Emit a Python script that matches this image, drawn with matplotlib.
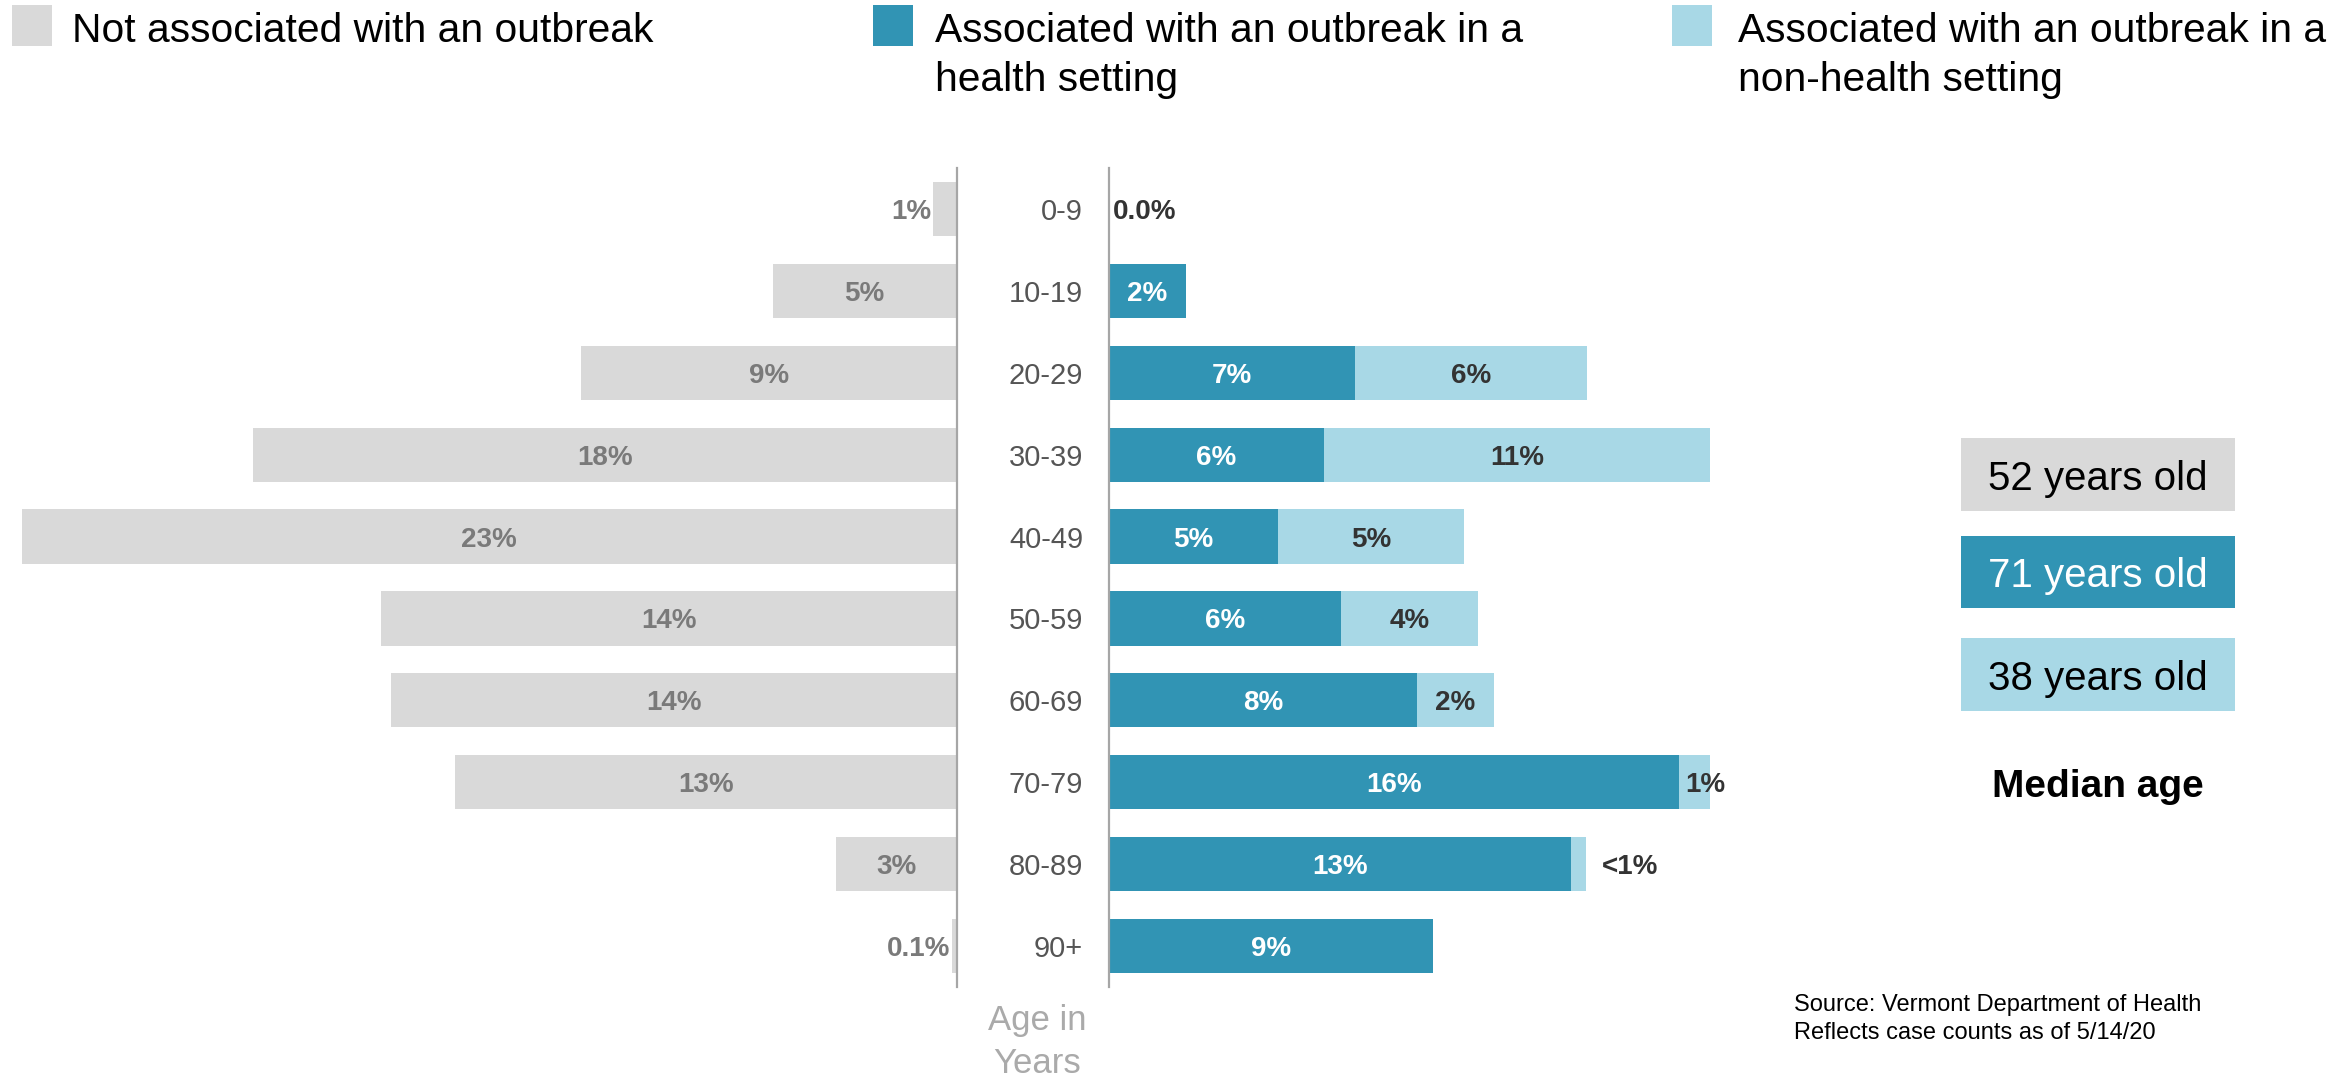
import matplotlib
matplotlib.use('Agg')
import matplotlib.pyplot as plt
from matplotlib.patches import Rectangle

# ---------------- data ----------------
age_groups = ['0-9', '10-19', '20-29', '30-39', '40-49', '50-59', '60-69', '70-79', '80-89', '90+']
not_outbreak = [0.58, 4.6, 9.38, 17.6, 23.37, 14.4, 14.14, 12.53, 3.02, 0.115]
not_outbreak_labels = ['1%', '5%', '9%', '18%', '23%', '14%', '14%', '13%', '3%', '0.1%']
health = [0.0, 2.12, 6.77, 5.91, 4.65, 6.36, 8.46, 15.66, 12.70, 8.89]
health_labels = ['0.0%', '2%', '7%', '6%', '5%', '6%', '8%', '16%', '13%', '9%']
nonhealth = [0.0, 0.0, 6.36, 10.6, 5.09, 3.79, 2.12, 0.85, 0.41, 0.0]
nonhealth_labels = ['', '', '6%', '11%', '5%', '4%', '2%', '1%', '<1%', '']
legend_labels = [['Not associated with an outbreak'],
                 ['Associated with an outbreak in a', 'health setting'],
                 ['Associated with an outbreak in a', 'non-health setting']]
median_ages = ['52 years old', '71 years old', '38 years old']
median_title = 'Median age'
axis_title = ['Age in', 'Years']
source_lines = ['Source: Vermont Department of Health', 'Reflects case counts as of 5/14/20']

# ---------------- style ----------------
C_GRAY = '#D9D9D9'
C_DARK = '#3194B4'
C_LIGHT = '#A8D8E6'
FONT = ['Liberation Sans', 'DejaVu Sans']
plt.rcParams['font.family'] = FONT

W, H, DPI = 2351, 1079, 100
fig = plt.figure(figsize=(W / DPI, H / DPI), dpi=DPI)
fig.patch.set_facecolor('white')


def fx(x):
    return x / W


def fy(y):
    return 1 - y / H


top_px, bot_px = 167.7, 987.3
axis_l_x, axis_r_x = 956.6, 1109.0
left_start = 14.0
scale_l, scale_r = 40.0, 36.4
r_width = 700.0
DY = -3  # visual centring of text on bars (pixels)

ax_l = fig.add_axes([fx(left_start), fy(bot_px), (axis_l_x - left_start) / W, (bot_px - top_px) / H])
ax_r = fig.add_axes([fx(axis_r_x), fy(bot_px), r_width / W, (bot_px - top_px) / H])

n = len(age_groups)
ypos = list(range(n))
bh = 0.66

ax_l.barh(ypos, not_outbreak, height=bh, color=C_GRAY, edgecolor='none')
ax_l.set_xlim((axis_l_x - left_start) / scale_l, 0)
ax_r.barh(ypos, health, height=bh, color=C_DARK, edgecolor='none')
ax_r.barh(ypos, nonhealth, left=health, height=bh, color=C_LIGHT, edgecolor='none')
ax_r.set_xlim(0, r_width / scale_r)

for ax in (ax_l, ax_r):
    ax.set_ylim(n - 0.5, -0.5)
    ax.set_xticks([])
    ax.set_yticks([])
    for s in ax.spines.values():
        s.set_visible(False)
    ax.patch.set_alpha(0)
ax_l.spines['right'].set_visible(True)
ax_l.spines['right'].set_color('#A6A6A6')
ax_l.spines['right'].set_linewidth(1.6)
ax_r.spines['left'].set_visible(True)
ax_r.spines['left'].set_color('#A6A6A6')
ax_r.spines['left'].set_linewidth(1.6)

VAL_FS = 20


def put(ax, x, y, s, dx, ha, color):
    ax.annotate(s, (x, y), xytext=(dx, DY), textcoords='offset pixels', ha=ha,
                va='center', fontsize=VAL_FS, color=color, fontweight='bold')


# left labels
for i, (v, lab) in enumerate(zip(not_outbreak, not_outbreak_labels)):
    if v >= 2:
        put(ax_l, v / 2, i, lab, 0, 'center', '#7A7A7A')
    else:
        put(ax_l, v, i, lab, -2, 'right', '#7A7A7A')

# right labels
for i, (h, nh, hl, nl) in enumerate(zip(health, nonhealth, health_labels, nonhealth_labels)):
    if h >= 1:
        put(ax_r, h / 2, i, hl, 0, 'center', 'white')
    else:
        put(ax_r, h, i, hl, 4, 'left', '#333333')
    if nl:
        if nh >= 1.5:
            put(ax_r, h + nh / 2, i, nl, 0, 'center', '#333333')
        elif nh >= 0.5:
            put(ax_r, h, i, nl, 6, 'left', '#333333')
        else:
            put(ax_r, h + nh, i, nl, 16, 'left', '#333333')

# category labels
cat_x = (1083 - left_start) / (axis_l_x - left_start)
for i, g in enumerate(age_groups):
    ax_l.annotate(g, (cat_x, i), xycoords=ax_l.get_yaxis_transform(), xytext=(0, DY),
                  textcoords='offset pixels', ha='right', va='center', fontsize=21,
                  color='#555555', annotation_clip=False)

# axis title
fig.text(fx(1037), fy(1030), axis_title[0], ha='center', va='baseline', fontsize=25, color='#AAAAAA')
fig.text(fx(1037), fy(1073), axis_title[1], ha='center', va='baseline', fontsize=25, color='#AAAAAA')

# legend
leg_sq_x = [12, 873, 1672]
leg_txt_x = [72, 935, 1738]
leg_colors = [C_GRAY, C_DARK, C_LIGHT]
for sx, tx, col, lines in zip(leg_sq_x, leg_txt_x, leg_colors, legend_labels):
    fig.patches.append(Rectangle((fx(sx), fy(46)), 40 / W, 41 / H, transform=fig.transFigure,
                                 facecolor=col, edgecolor='none'))
    for k, line in enumerate(lines):
        fig.text(fx(tx), fy(41.7 + 49 * k), line, ha='left', va='baseline', fontsize=29.3, color='black')

# median boxes
box_tops = [438.3, 535.7, 638.3]
box_cols = [C_GRAY, C_DARK, C_LIGHT]
box_txt_cols = ['black', 'white', 'black']
for top, col, tc, lab in zip(box_tops, box_cols, box_txt_cols, median_ages):
    fig.patches.append(Rectangle((fx(1961), fy(top + 72.5)), 274 / W, 72.5 / H,
                                 transform=fig.transFigure, facecolor=col, edgecolor='none'))
    fig.text(fx(2098), fy(top + 51.5), lab, ha='center', va='baseline', fontsize=29, color=tc)
fig.text(fx(2098), fy(796.7), median_title, ha='center', va='baseline', fontsize=28,
         fontweight='bold', color='black')

# source
fig.text(fx(1794), fy(1010.7), source_lines[0], ha='left', va='baseline', fontsize=17, color='black')
fig.text(fx(1794), fy(1039), source_lines[1], ha='left', va='baseline', fontsize=17, color='black')

fig.savefig('out.png', dpi=DPI, facecolor='white')
